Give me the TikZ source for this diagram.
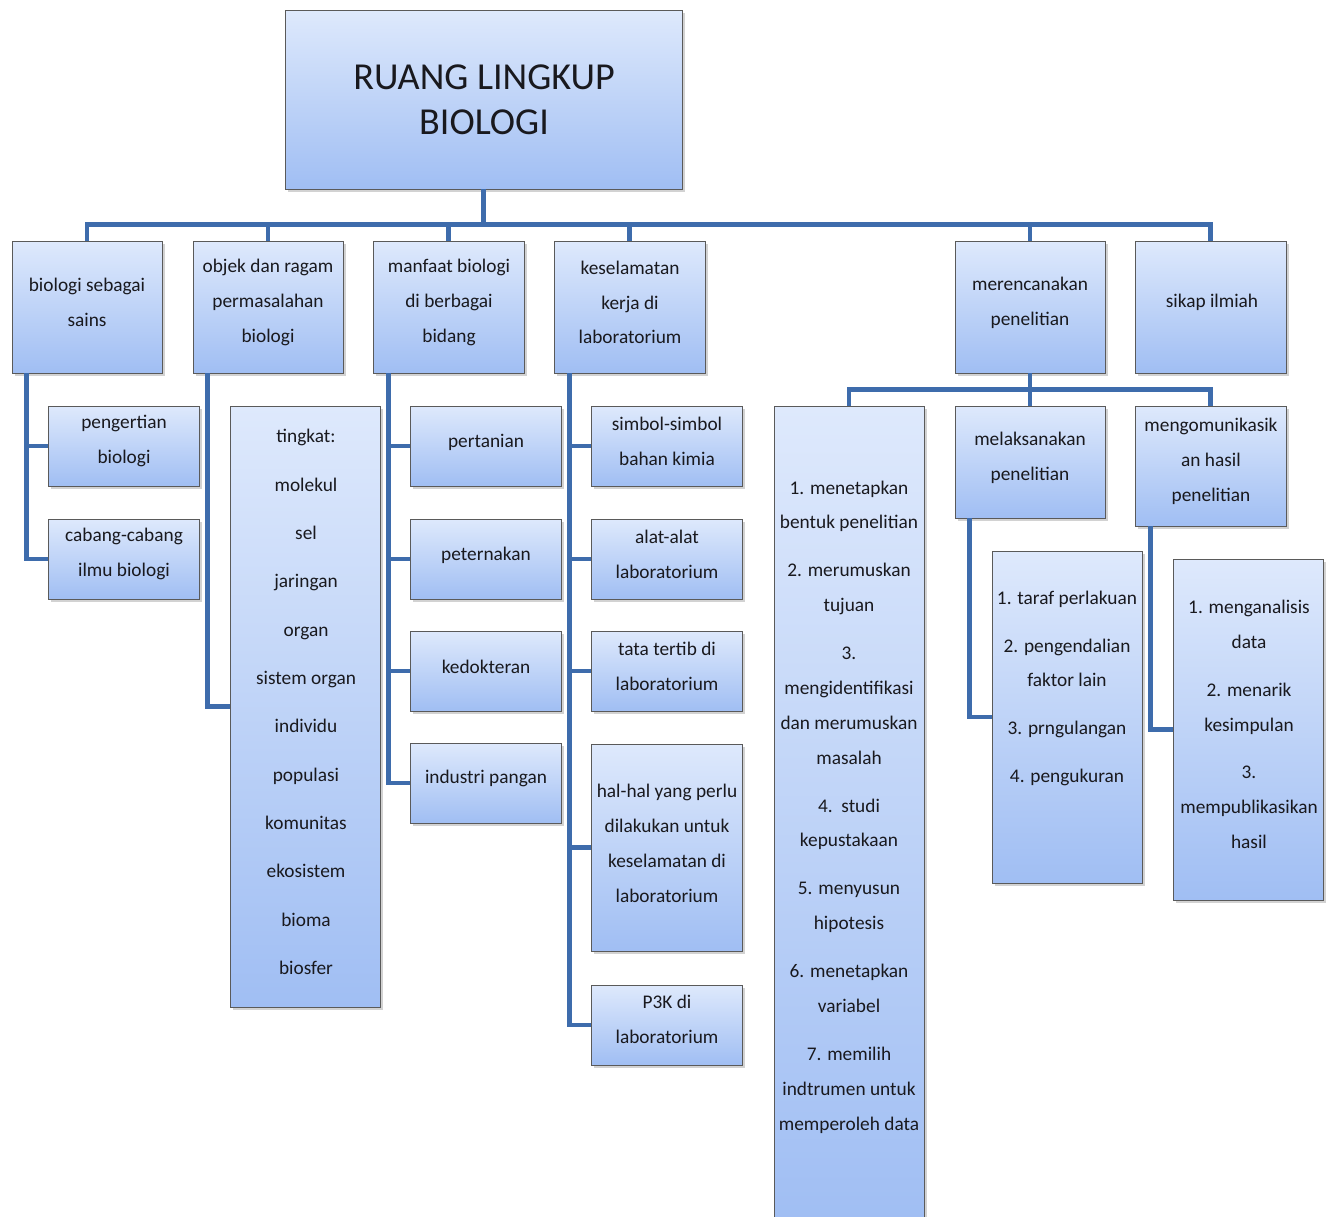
\documentclass[tikz,border=0pt]{standalone}
\usepackage{fontspec}
\setmainfont{Carlito}
\usetikzlibrary{calc,shadows}
\definecolor{conncol}{RGB}{62,108,172}
\definecolor{boxtop}{RGB}{222,233,252}
\definecolor{boxbot}{RGB}{160,190,243}
\definecolor{boxline}{RGB}{90,90,90}
\definecolor{txtcol}{RGB}{25,25,30}
\newcommand\mkbox[5]{\node[bx, minimum width={(#4-#2)*0.02cm}, minimum height={(#5-#3)*0.02cm}] (#1) at ({(#2+#4)/2},{(#3+#5)/2}) {};}
\tikzset{
  bx/.style={draw=boxline, line width=0.5pt, top color=boxtop, bottom color=boxbot, inner sep=0pt,
    drop shadow={opacity=0.35, shadow xshift=1.8pt, shadow yshift=-1.8pt}},
  txt/.style={text=txtcol, align=center, font=\fontsize{11pt}{19.85pt}\selectfont, inner sep=0pt, yshift=-1.1pt},
  txtwide/.style={txt, font=\fontsize{11pt}{27.5pt}\selectfont},
  txtbig/.style={txt, font=\fontsize{21.7pt}{25.5pt}\selectfont},
  conn/.style={draw=conncol, line width=2.8pt}
}
\begin{document}
\begin{tikzpicture}[x=0.02cm, y=-0.02cm]
\useasboundingbox[fill=white] (0,0) rectangle (1332,1217);
% boxes
\mkbox{root}{285}{10}{682}{189}
\mkbox{A}{12}{241}{162}{373}
\mkbox{B}{193}{241}{343}{373}
\mkbox{C}{373}{241}{524}{373}
\mkbox{D}{554}{241}{705}{373}
\mkbox{E}{955}{241}{1105}{373}
\mkbox{F}{1135}{241}{1286}{373}
\mkbox{A1}{48}{406}{199}{486}
\mkbox{A2}{48}{519}{199}{599}
\mkbox{B1}{230}{406}{380}{1007}
\mkbox{C1}{410}{406}{561}{486}
\mkbox{C2}{410}{519}{561}{599}
\mkbox{C3}{410}{631}{561}{711}
\mkbox{C4}{410}{743}{561}{823}
\mkbox{D1}{591}{406}{742}{486}
\mkbox{D2}{591}{519}{742}{599}
\mkbox{D3}{591}{631}{742}{711}
\mkbox{D4}{591}{744}{742}{951}
\mkbox{D5}{591}{985}{742}{1065}
\mkbox{G}{774}{406}{924}{1224}
\mkbox{H}{955}{406}{1105}{518}
\mkbox{I}{1135}{406}{1286}{526}
\mkbox{H1}{992}{551}{1142}{883}
\mkbox{I1}{1173}{559}{1323}{900}
% connectors
\coordinate (bus) at ($(A.north)+(0,-16)$);
\draw[conn] (A.north) -- (bus) -| (F.north);
\draw[conn] (root.south) -- (root.south |- bus);
\foreach \n in {B,C,D,E} {\draw[conn] (\n.north) -- (\n.north |- bus);}
\coordinate (asp) at ($(A.south west)+(15,0)$);
\draw[conn] (asp) |- (A1.west);
\draw[conn] (asp) |- (A2.west);
\coordinate (bsp) at ($(B.south west)+(15,0)$);
\draw[conn] (bsp) |- (B1.west);
\coordinate (csp) at ($(C.south west)+(16,0)$);
\foreach \n in {C1,C2,C3,C4} {\draw[conn] (csp) |- (\n.west);}
\coordinate (dsp) at ($(D.south west)+(16,0)$);
\foreach \n in {D1,D2,D3,D4,D5} {\draw[conn] (dsp) |- (\n.west);}
\coordinate (ebus) at ($(G.north)+(0,-16)$);
\draw[conn] (G.north) -- (ebus) -| (I.north);
\draw[conn] (E.south) -- (H.north);
\coordinate (hsp) at ($(H.south west)+(15,0)$);
\draw[conn] (hsp) |- (H1.west);
\coordinate (isp) at ($(I.south west)+(16,0)$);
\draw[conn] (isp) |- (I1.west);
% texts
\node[txtbig] (roott) at (484,97.5) {RUANG LINGKUP\\BIOLOGI};
\node[txt] (At) at (87,300.5) {biologi sebagai\\sains};
\node[txt] (Bt) at (268,300.5) {objek dan ragam\\permasalahan\\biologi};
\node[txt] (Ct) at (449,300.5) {manfaat biologi\\di berbagai\\bidang};
\node[txt] (Dt) at (630,300.5) {keselamatan\\kerja di\\laboratorium};
\node[txt] (Et) at (1030,300.5) {merencanakan\\penelitian};
\node[txt] (Ft) at (1212,300.5) {sikap ilmiah};
\node[txt] (A1t) at (124,439) {pengertian\\biologi};
\node[txt] (A2t) at (124,552) {cabang-cabang\\ilmu biologi};
\node[txtwide] (B1t) at (306,700) {tingkat:\\molekul\\sel\\jaringan\\organ\\sistem organ\\individu\\populasi\\komunitas\\ekosistem\\bioma\\biosfer};
\node[txt] (C1t) at (486,440) {pertanian};
\node[txt] (C2t) at (486,553) {peternakan};
\node[txt] (C3t) at (486,665) {kedokteran};
\node[txt] (C4t) at (486,777) {industri pangan};
\node[txt] (D1t) at (667,439) {simbol-simbol\\bahan kimia};
\node[txt] (D2t) at (667,552) {alat-alat\\laboratorium};
\node[txt] (D3t) at (667,664) {tata tertib di\\laboratorium};
\node[txt] (D4t) at (667,841.5) {hal-hal yang perlu\\dilakukan untuk\\keselamatan di\\laboratorium};
\node[txt] (D5t) at (667,1017) {P3K di\\laboratorium};
\node[txt] (Gt) at (849,805) {1. menetapkan\\bentuk penelitian\\[7.4pt]2. merumuskan\\tujuan\\[7.4pt]3.\\mengidentifikasi\\dan merumuskan\\masalah\\[7.4pt]4.\ \ studi\\kepustakaan\\[7.4pt]5. menyusun\\hipotesis\\[7.4pt]6. menetapkan\\variabel\\[7.4pt]7. memilih\\indtrumen untuk\\memperoleh data};
\node[txt] (Ht) at (1030,456) {melaksanakan\\penelitian};
\node[txt] (It) at (1211,459.5) {mengomunikasik\\an hasil\\penelitian};
\node[txt] (H1t) at (1067,686.5) {1. taraf perlakuan\\[7.4pt]2. pengendalian\\faktor lain\\[7.4pt]3. prngulangan\\[7.4pt]4. pengukuran};
\node[txt] (I1t) at (1249,722.5) {1. menganalisis\\data\\[7.4pt]2. menarik\\kesimpulan\\[7.4pt]3.\\mempublikasikan\\hasil};
\end{tikzpicture}
\end{document}
